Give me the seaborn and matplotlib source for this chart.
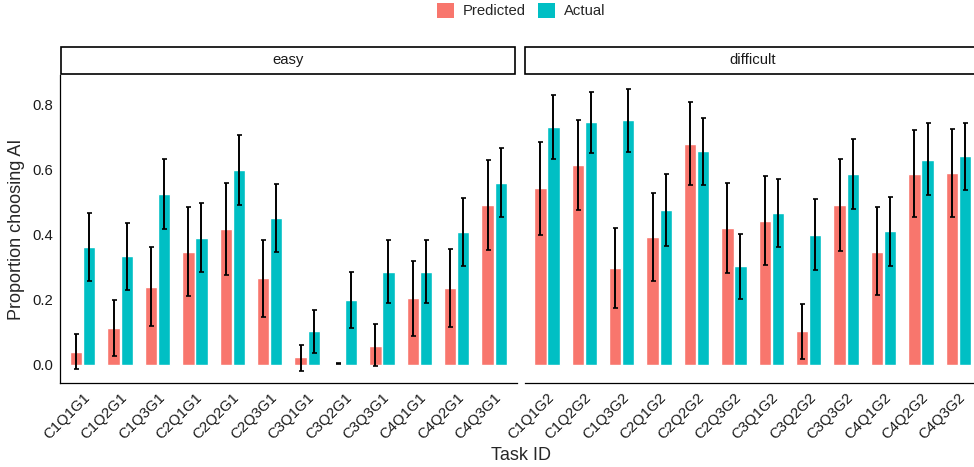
import numpy as np
import pandas as pd
import matplotlib
matplotlib.use("Agg")
import matplotlib.pyplot as plt
from matplotlib.patches import Patch, Rectangle
import seaborn as sns

# values
easy_tasks = ["C1Q1G1", "C1Q2G1", "C1Q3G1", "C2Q1G1", "C2Q2G1", "C2Q3G1",
              "C3Q1G1", "C3Q2G1", "C3Q3G1", "C4Q1G1", "C4Q2G1", "C4Q3G1"]
difficult_tasks = ["C1Q1G2", "C1Q2G2", "C1Q3G2", "C2Q1G2", "C2Q2G2", "C2Q3G2",
                   "C3Q1G2", "C3Q2G2", "C3Q3G2", "C4Q1G2", "C4Q2G2", "C4Q3G2"]

easy_pred = [0.040, 0.114, 0.240, 0.348, 0.418, 0.265, 0.022, 0.003, 0.058, 0.206, 0.237, 0.492]
easy_pred_lo = [-0.015, 0.027, 0.120, 0.212, 0.276, 0.145, -0.020, 0.001, -0.006, 0.089, 0.117, 0.352]
easy_pred_hi = [0.095, 0.200, 0.361, 0.484, 0.559, 0.385, 0.060, 0.005, 0.125, 0.320, 0.355, 0.631]
easy_act = [0.363, 0.335, 0.526, 0.391, 0.600, 0.452, 0.102, 0.200, 0.286, 0.286, 0.409, 0.560]
easy_act_lo = [0.257, 0.231, 0.417, 0.284, 0.491, 0.346, 0.034, 0.113, 0.189, 0.189, 0.302, 0.453]
easy_act_hi = [0.468, 0.437, 0.634, 0.498, 0.707, 0.555, 0.167, 0.284, 0.385, 0.385, 0.514, 0.666]

diff_pred = [0.545, 0.615, 0.298, 0.394, 0.680, 0.422, 0.443, 0.102, 0.492, 0.348, 0.588, 0.591]
diff_pred_lo = [0.400, 0.475, 0.173, 0.257, 0.554, 0.283, 0.308, 0.016, 0.349, 0.213, 0.453, 0.453]
diff_pred_hi = [0.686, 0.753, 0.422, 0.529, 0.809, 0.560, 0.582, 0.185, 0.634, 0.484, 0.721, 0.726]
diff_act = [0.732, 0.748, 0.754, 0.477, 0.658, 0.302, 0.468, 0.400, 0.588, 0.412, 0.631, 0.643]
diff_act_lo = [0.632, 0.653, 0.656, 0.364, 0.554, 0.203, 0.361, 0.292, 0.480, 0.305, 0.521, 0.539]
diff_act_hi = [0.829, 0.840, 0.848, 0.588, 0.760, 0.403, 0.572, 0.511, 0.695, 0.517, 0.745, 0.745]


def long_table(tasks, pred, pred_lo, pred_hi, act, act_lo, act_hi):
    rows = []
    for i, t in enumerate(tasks):
        rows.append([t, "Predicted", pred[i], pred_lo[i], pred_hi[i]])
    for i, t in enumerate(tasks):
        rows.append([t, "Actual", act[i], act_lo[i], act_hi[i]])
    return pd.DataFrame(rows, columns=["task", "type", "value", "lo", "hi"])


easy = long_table(easy_tasks, easy_pred, easy_pred_lo, easy_pred_hi,
                  easy_act, easy_act_lo, easy_act_hi)
difficult = long_table(difficult_tasks, diff_pred, diff_pred_lo, diff_pred_hi,
                       diff_act, diff_act_lo, diff_act_hi)

sns.set_style("white")
plt.rcParams["font.family"] = ["Liberation Sans", "DejaVu Sans"]

palette = {"Predicted": "#F8766D", "Actual": "#00BFC4"}
small = 10.7
big = 13
W, H = 974, 467
fig = plt.figure(figsize=(W / 100, H / 100), dpi=100)

# panel boxes in pixels: left, top, right, bottom
panels = [(60.3, 75, 516.6, 383), (524.5, 75, 980.8, 383)]
axes = []
for (l, t, r, b) in panels:
    axes.append(fig.add_axes([l / W, 1 - b / H, (r - l) / W, (b - t) / H]))

for k, (ax, df, tasks, name) in enumerate(zip(axes, [easy, difficult],
                                            [easy_tasks, difficult_tasks],
                                            ["easy", "difficult"])):
    sns.barplot(data=df, x="task", y="value", hue="type", order=tasks,
                hue_order=["Predicted", "Actual"], palette=palette,
                errorbar=None, width=0.7, gap=0.06, saturation=1,
                legend=False, ax=ax)
    # error bars on the bars seaborn drew
    for cont, lvl in zip(ax.containers, ["Predicted", "Actual"]):
        sub = df[df["type"] == lvl].set_index("task").loc[tasks]
        xs = [p.get_x() + p.get_width() / 2 for p in cont.patches]
        ys = sub["value"].values
        err = np.vstack([ys - sub["lo"].values, sub["hi"].values - ys])
        ax.errorbar(xs, ys, yerr=err, fmt="none", ecolor="black",
                    elinewidth=1.4, capsize=1.8, capthick=1.2)

    ax.set_xlim(-0.6, len(tasks) - 0.4)
    ax.set_ylim(-0.057, 0.892)
    ax.set_xlabel("")
    ax.set_ylabel("")
    ax.set_xticks(range(len(tasks)))
    ax.set_xticklabels(tasks, rotation=45, ha="right", va="top",
                       rotation_mode="anchor", fontsize=small, color="#1a1a1a")
    ax.tick_params(axis="x", length=2.6, width=0.9, pad=2.5, color="#333333")
    for s in ["top", "right"]:
        ax.spines[s].set_visible(False)
    ax.spines["bottom"].set_linewidth(0.9)
    ax.spines["bottom"].set_color("black")

    if k == 0:
        ax.set_yticks([0.0, 0.2, 0.4, 0.6, 0.8])
        ax.set_yticklabels(["0.0", "0.2", "0.4", "0.6", "0.8"], fontsize=small,
                           color="#1a1a1a")
        ax.tick_params(axis="y", length=2.6, width=0.9, pad=2.5, color="#333333")
        ax.spines["left"].set_linewidth(0.9)
        ax.spines["left"].set_color("black")
        ax.set_ylabel("Proportion choosing AI", fontsize=big, labelpad=5)
    else:
        ax.spines["left"].set_visible(False)
        ax.set_yticks([])

    # facet strip
    h = panels[k][3] - panels[k][1]
    y0 = 1 + 1.0 / h
    y1 = 1 + 28.3 / h
    ax.add_patch(Rectangle((0.002, y0), 0.994, y1 - y0, transform=ax.transAxes,
                           facecolor="white", edgecolor="black", lw=1.2,
                           clip_on=False))
    ax.text(0.5, (y0 + y1) / 2, name, transform=ax.transAxes, ha="center",
            va="center", fontsize=small, color="#1a1a1a")

fig.text(521 / W, 1 - 456 / H, "Task ID", ha="center", va="center", fontsize=big)

handles = [Patch(facecolor=palette[t], edgecolor="none") for t in ["Predicted", "Actual"]]
fig.legend(handles, ["Predicted", "Actual"], loc="center", ncol=2,
           bbox_to_anchor=(521 / W, 1 - 10.5 / H), frameon=False, fontsize=small,
           handlelength=1.15, handleheight=1.15, handletextpad=0.6,
           columnspacing=0.8)

fig.savefig("out.png", dpi=100)
